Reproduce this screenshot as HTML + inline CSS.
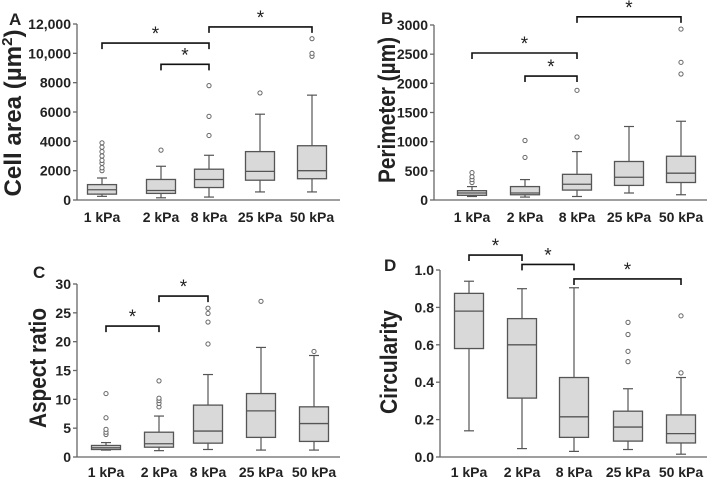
<!DOCTYPE html>
<html><head><meta charset="utf-8"><style>
html,body{margin:0;padding:0;background:#fff;}
svg{display:block;font-family:"Liberation Sans",Arial,sans-serif;}
</style></head><body>
<svg id="fig" width="709" height="478" viewBox="0 0 709 478"></svg>
<script>
const categories=["1 kPa","2 kPa","8 kPa","25 kPa","50 kPa"];
// [whiskerLow, q1, median, q3, whiskerHigh]
const areaStats=[[250,400,700,1050,1500],[150,450,650,1400,2300],[200,850,1400,2100,3050],[550,1350,1950,3300,5850],[550,1450,2000,3700,7150]];
const areaOutliers=[[2000,2200,2500,2700,3000,3300,3600,3900],[3400],[4400,5700,7800],[7300],[9800,10000,11000]];
const areaTicks=[0,2000,4000,6000,8000,10000,12000];
const areaTickLabels=["0","2000","4000","6000","8000","10,000","12,000"];
const areaBrackets=[[0,2,10700],[1,2,9250],[2,4,11800]];

const perimStats=[[60,80,120,160,230],[50,90,120,230,350],[60,170,270,440,830],[120,250,390,660,1260],[90,300,460,750,1350]];
const perimOutliers=[[300,350,400,470],[730,1020],[1080,1880],[],[2160,2360,2930]];
const perimTicks=[0,500,1000,1500,2000,2500,3000];
const perimTickLabels=["0","500","1000","1500","2000","2500","3000"];
const perimBrackets=[[0,2,2520],[1,2,2125],[2,4,3140]];

const aspectStats=[[1.2,1.3,1.6,2.0,2.5],[1.1,1.7,2.3,4.3,7.1],[1.3,2.4,4.5,9.0,14.3],[1.2,3.4,8.0,11.0,19.0],[1.2,2.7,5.8,8.7,17.6]];
const aspectOutliers=[[3.9,4.3,4.8,6.8,11],[8.7,9.3,9.8,10.2,13.2],[19.6,23.4,24.9,25.8],[27],[18.3]];
const aspectTicks=[0,5,10,15,20,25,30];
const aspectTickLabels=["0","5","10","15","20","25","30"];
const aspectBrackets=[[0,1,22.7],[1,2,27.9]];

const circStats=[[0.14,0.58,0.78,0.875,0.94],[0.045,0.315,0.6,0.74,0.9],[0.03,0.105,0.215,0.425,0.905],[0.04,0.085,0.16,0.245,0.365],[0.015,0.075,0.125,0.225,0.425]];
const circOutliers=[[],[],[],[0.51,0.565,0.655,0.72],[0.45,0.755]];
const circTicks=[0,0.2,0.4,0.6,0.8,1.0];
const circTickLabels=["0.0","0.2","0.4","0.6","0.8","1.0"];
const circBrackets=[[0,1,1.08],[1,2,1.03],[2,4,0.952]];

const NS="http://www.w3.org/2000/svg";
const svg=document.getElementById('fig');
function mk(tag,attrs,parent){const e=document.createElementNS(NS,tag);for(const k in attrs)e.setAttribute(k,attrs[k]);(parent||svg).appendChild(e);return e;}

function panel(cfg){
  const g=mk('g',{});
  
  
  const y=v=>cfg.y0-(v-cfg.vmin)/(cfg.vmax-cfg.vmin)*(cfg.y0-cfg.yTop);
  const x=i=>cfg.centers[i];
  const ya=mk('line',{x1:cfg.ax,y1:cfg.yTop,x2:cfg.ax,y2:cfg.y0,stroke:'#666','stroke-width':1.3},g);
  
  
  const xa=mk('line',{x1:cfg.ax,y1:cfg.y0,x2:cfg.axEnd,y2:cfg.y0,stroke:'#666','stroke-width':1.3},g);
  
  
  cfg.ticks.forEach((t,i)=>{
    mk('line',{x1:cfg.ax-4,y1:y(t),x2:cfg.ax,y2:y(t),stroke:'#666','stroke-width':1.3},g);
    const tx=mk('text',{x:cfg.ax-6,y:y(t)+5,'text-anchor':'end','font-size':14,'font-weight':'bold',fill:'#222'},g);
    tx.textContent=cfg.tickLabels[i];
    
    
  });
  categories.forEach((c,i)=>{
    const tx=mk('text',{x:x(i),y:cfg.labelY,'text-anchor':'middle','font-size':14,'font-weight':'bold',fill:'#222'},g);
    tx.textContent=c;
    
    
  });
  const w=29,cap=5;
  cfg.stats.forEach((s,i)=>{
    const bg=mk('g',{},g);
    
    
    const cx=x(i);
    mk('line',{x1:cx,y1:y(s[0]),x2:cx,y2:y(s[4]),stroke:'#555','stroke-width':1.2},bg);
    mk('line',{x1:cx-cap,y1:y(s[0]),x2:cx+cap,y2:y(s[0]),stroke:'#555','stroke-width':1.2},bg);
    mk('line',{x1:cx-cap,y1:y(s[4]),x2:cx+cap,y2:y(s[4]),stroke:'#555','stroke-width':1.2},bg);
    mk('rect',{x:cx-w/2,y:y(s[3]),width:w,height:y(s[1])-y(s[3]),fill:'#d9d9d9',stroke:'#555','stroke-width':1.3},bg);
    mk('line',{x1:cx-w/2,y1:y(s[2]),x2:cx+w/2,y2:y(s[2]),stroke:'#555','stroke-width':1.3},bg);
    cfg.outliers[i].forEach(o=>{
      const c=mk('circle',{cx:cx,cy:y(o),r:2.1,fill:'#fff',stroke:'#666','stroke-width':1},bg);
      
      
    });
  });
  cfg.brackets.forEach(b=>{
    const by=y(b[2]);
    const p=mk('path',{d:`M${x(b[0])},${by+6}V${by}H${x(b[1])}V${by+6}`,fill:'none',stroke:'#111','stroke-width':1.6},g);
    
    
    const st=mk('text',{x:(x(b[0])+x(b[1]))/2,y:by-3,'text-anchor':'middle','font-size':19,fill:'#222'},g);
    st.textContent='*';
    
    
  });
  const tt=mk('text',{x:0,y:0,transform:`translate(${cfg.titleX},${cfg.titleY}) rotate(-90)`,'text-anchor':'middle','font-size':24,'font-weight':'bold',fill:'#222',textLength:cfg.titleLen,lengthAdjust:'spacingAndGlyphs'},g);
  tt.innerHTML=cfg.title;
  
  
  const pl=mk('text',{x:cfg.letterX,y:cfg.letterY,'font-size':17,'font-weight':'bold',fill:'#222'},g);
  pl.textContent=cfg.letter;
  
  
}

panel({name:'panel-a-cell-area',ax:77,axEnd:340,y0:200,yTop:24,vmin:0,vmax:12000,centers:[102,161,209,260,312],
  ticks:areaTicks,tickLabels:areaTickLabels,stats:areaStats,outliers:areaOutliers,brackets:areaBrackets,labelY:222,
  title:'Cell area (µm<tspan dy="-9" font-size="15">2</tspan><tspan dy="9">)</tspan>',titleLen:167,titleX:21,titleY:113,letter:'A',letterX:9,letterY:25});
panel({name:'panel-b-perimeter',ax:434,axEnd:707,y0:200,yTop:25,vmin:0,vmax:3000,centers:[472,525,577,629,681],
  ticks:perimTicks,tickLabels:perimTickLabels,stats:perimStats,outliers:perimOutliers,brackets:perimBrackets,labelY:222,
  title:'Perimeter (µm)',titleLen:146,titleX:395,titleY:110,letter:'B',letterX:381,letterY:24});
panel({name:'panel-c-aspect-ratio',ax:77,axEnd:340,y0:457,yTop:284,vmin:0,vmax:30,centers:[106,159,208,261,314],
  ticks:aspectTicks,tickLabels:aspectTickLabels,stats:aspectStats,outliers:aspectOutliers,brackets:aspectBrackets,labelY:477,
  title:'Aspect ratio',titleLen:120,titleX:46,titleY:368,letter:'C',letterX:33,letterY:278});
panel({name:'panel-d-circularity',ax:440,axEnd:707,y0:457,yTop:270,vmin:0,vmax:1,centers:[469,522,574,628,681],
  ticks:circTicks,tickLabels:circTickLabels,stats:circStats,outliers:circOutliers,brackets:circBrackets,labelY:477,
  title:'Circularity',titleLen:104,titleX:397,titleY:362,letter:'D',letterX:384,letterY:271});
</script>
</body></html>
